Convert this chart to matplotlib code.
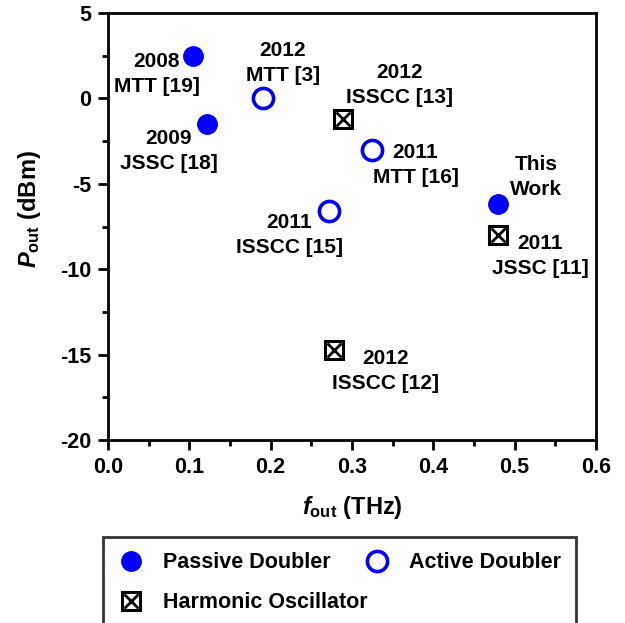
import matplotlib.pyplot as plt
from matplotlib.legend_handler import HandlerTuple

plt.rcParams['font.family'] = 'Liberation Sans'
plt.rcParams['font.weight'] = 'bold'
plt.rcParams['axes.unicode_minus'] = False
plt.rcParams['mathtext.fontset'] = 'custom'
plt.rcParams['mathtext.rm'] = 'Liberation Sans:bold'
plt.rcParams['mathtext.it'] = 'Liberation Sans:italic:bold'
plt.rcParams['mathtext.bf'] = 'Liberation Sans:bold'

# Passive doublers
passive_f = [0.105, 0.122, 0.48]
passive_p = [2.5, -1.5, -6.2]
passive_lbl = ["2008\nMTT [19]", "2009\nJSSC [18]", "This\nWork"]

# Active doublers
active_f = [0.19, 0.325, 0.272]
active_p = [0.0, -3.0, -6.6]
active_lbl = ["2012\nMTT [3]", "2011\nMTT [16]", "2011\nISSCC [15]"]

# Harmonic oscillators
harm_f = [0.289, 0.278, 0.48]
harm_p = [-1.2, -14.7, -8.0]
harm_lbl = ["2012\nISSCC [13]", "2012\nISSCC [12]", "2011\nJSSC [11]"]

# label text positions (data coords)
passive_txt = [(0.060, 1.45), (0.075, -3.05), (0.526, -4.6)]
active_txt = [(0.215, 2.1), (0.378, -3.9), (0.223, -8.0)]
harm_txt = [(0.358, 0.8), (0.341, -15.95), (0.531, -9.2)]

blue = '#0000ff'

fig = plt.figure(figsize=(6.25, 6.23), dpi=100)
ax = fig.add_axes([0.1728, 0.2937, 0.7808, 0.6853])

p1, = ax.plot(passive_f, passive_p, 'o', ms=14, color=blue, mec=blue, ls='none')
p2, = ax.plot(active_f, active_p, 'o', ms=14.5, mfc='white', mec=blue, mew=2.6, ls='none')
h1, = ax.plot(harm_f, harm_p, 's', ms=13.5, mfc='white', mec='black', mew=2.2, ls='none')
h2, = ax.plot(harm_f, harm_p, 'x', ms=10, color='black', mew=2, ls='none')

for f, p, lbl, pos in zip(passive_f + active_f + harm_f,
                          passive_p + active_p + harm_p,
                          passive_lbl + active_lbl + harm_lbl,
                          passive_txt + active_txt + harm_txt):
    ax.annotate(lbl, xy=(f, p), xytext=pos, ha='center', va='center',
                fontsize=15, fontweight='bold', linespacing=1.4)

ax.set_xlim(0, 0.6)
ax.set_ylim(-20, 5)
ax.set_xticks([0.0, 0.1, 0.2, 0.3, 0.4, 0.5, 0.6])
ax.set_xticks([0.05, 0.15, 0.25, 0.35, 0.45, 0.55], minor=True)
ax.set_yticks([-20, -15, -10, -5, 0, 5])
ax.set_yticks([-17.5, -12.5, -7.5, -2.5, 2.5], minor=True)
ax.set_xticklabels(['0.0', '0.1', '0.2', '0.3', '0.4', '0.5', '0.6'])
ax.tick_params(which='major', direction='out', length=7, width=2, labelsize=15.5, pad=5)
ax.tick_params(which='minor', direction='out', length=4, width=2)
ax.tick_params(top=False, right=False)
for s in ax.spines.values():
    s.set_linewidth(2)

ax.set_xlabel(r'$f_{\rm out}$ (THz)', fontsize=17, fontweight='bold', labelpad=12)
ax.set_ylabel(r'$P_{\rm out}$ (dBm)', fontsize=17, fontweight='bold')
ax.yaxis.set_label_coords(-0.134, 0.54)

leg = fig.legend([p1, (h1, h2), p2],
                 ['Passive Doubler', 'Harmonic Oscillator', 'Active Doubler'],
                 handler_map={tuple: HandlerTuple(ndivide=1, pad=0)},
                 ncol=2, loc='upper left', bbox_to_anchor=(0.165, 0.138),
                 borderaxespad=0,
                 fontsize=15.5, frameon=True, fancybox=False, edgecolor='black',
                 handlelength=1.2, handletextpad=0.9, columnspacing=-0.2,
                 labelspacing=0.9, borderpad=0.7)
leg.get_frame().set_linewidth(2)

fig.savefig('out.png', dpi=100)
